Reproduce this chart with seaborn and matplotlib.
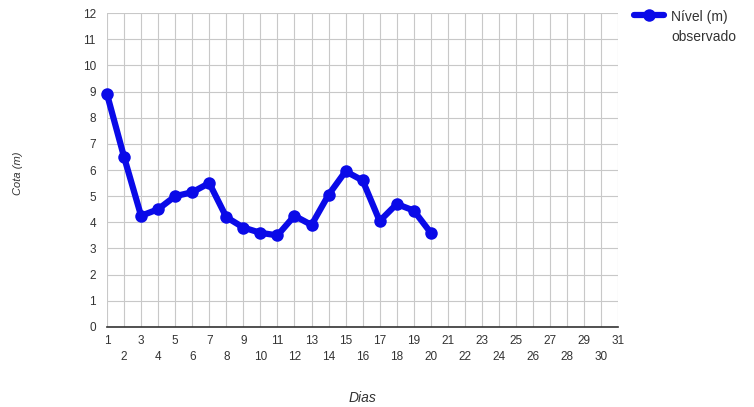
import matplotlib
matplotlib.use("Agg")
import matplotlib.pyplot as plt
import seaborn as sns
import pandas as pd

dias = list(range(1, 21))
nivel = [8.9, 6.5, 4.25, 4.5, 5.0, 5.15, 5.5, 4.2, 3.8, 3.6, 3.5, 4.25, 3.9, 5.05, 5.95, 5.6, 4.05, 4.7, 4.45, 3.6]
x_ticks = list(range(1, 32))
y_ticks = list(range(0, 13))
serie = "Nível (m)\nobservado"

df = pd.DataFrame({"Dias": dias, "Cota": nivel, "Série": serie})

sns.set_theme(style="white")
plt.rcParams["font.family"] = ["Liberation Sans", "DejaVu Sans"]

fig = plt.figure(figsize=(7.54, 4.07), dpi=100)
ax = fig.add_axes([0.1419, 0.1966, 0.820 - 0.1419, 0.968 - 0.1966])

blue = "#0a0ae8"
sns.lineplot(data=df, x="Dias", y="Cota", hue="Série", palette=[blue], marker="o",
             markersize=9, linewidth=4.5, markeredgewidth=0, ax=ax, clip_on=False, zorder=5)

ax.set_xlim(1, 31)
ax.set_ylim(0, 12)
ax.set_xticks(x_ticks)
ax.set_xticklabels([str(v) if v % 2 == 1 else "\n" + str(v) for v in x_ticks])
ax.set_yticks(y_ticks)
ax.grid(True, color="#c8c8c8", linewidth=0.8)
for s in ["left", "top", "right"]:
    ax.spines[s].set_visible(False)
ax.spines["bottom"].set_color("#333333")
ax.spines["bottom"].set_linewidth(1.2)
ax.spines["bottom"].set_zorder(6)
ax.tick_params(axis="both", length=0, labelsize=8.5, colors="#333333")
ax.tick_params(axis="x", pad=6)
ax.tick_params(axis="y", pad=8)
for lab in ax.get_xticklabels():
    lab.set_linespacing(1.45)

ax.set_xlabel("Dias", fontsize=10, style="italic", color="#333333")
ax.xaxis.set_label_coords(0.5, -0.205)
ax.set_ylabel("Cota (m)", fontsize=8, style="italic", color="#333333")
ax.yaxis.set_label_coords(-0.165, 0.49)

leg = ax.legend(loc="upper left", bbox_to_anchor=(1.019, 1.028), frameon=False,
                fontsize=10, handlelength=2.2, handletextpad=0.5, borderaxespad=0)
for t in leg.get_texts():
    t.set_color("#333333")
    t.set_linespacing(1.6)
try:
    for col in leg._legend_handle_box.get_children():
        for row in col.get_children():
            row.align = "top"
except Exception:
    pass

fig.savefig("out.png", dpi=100)
